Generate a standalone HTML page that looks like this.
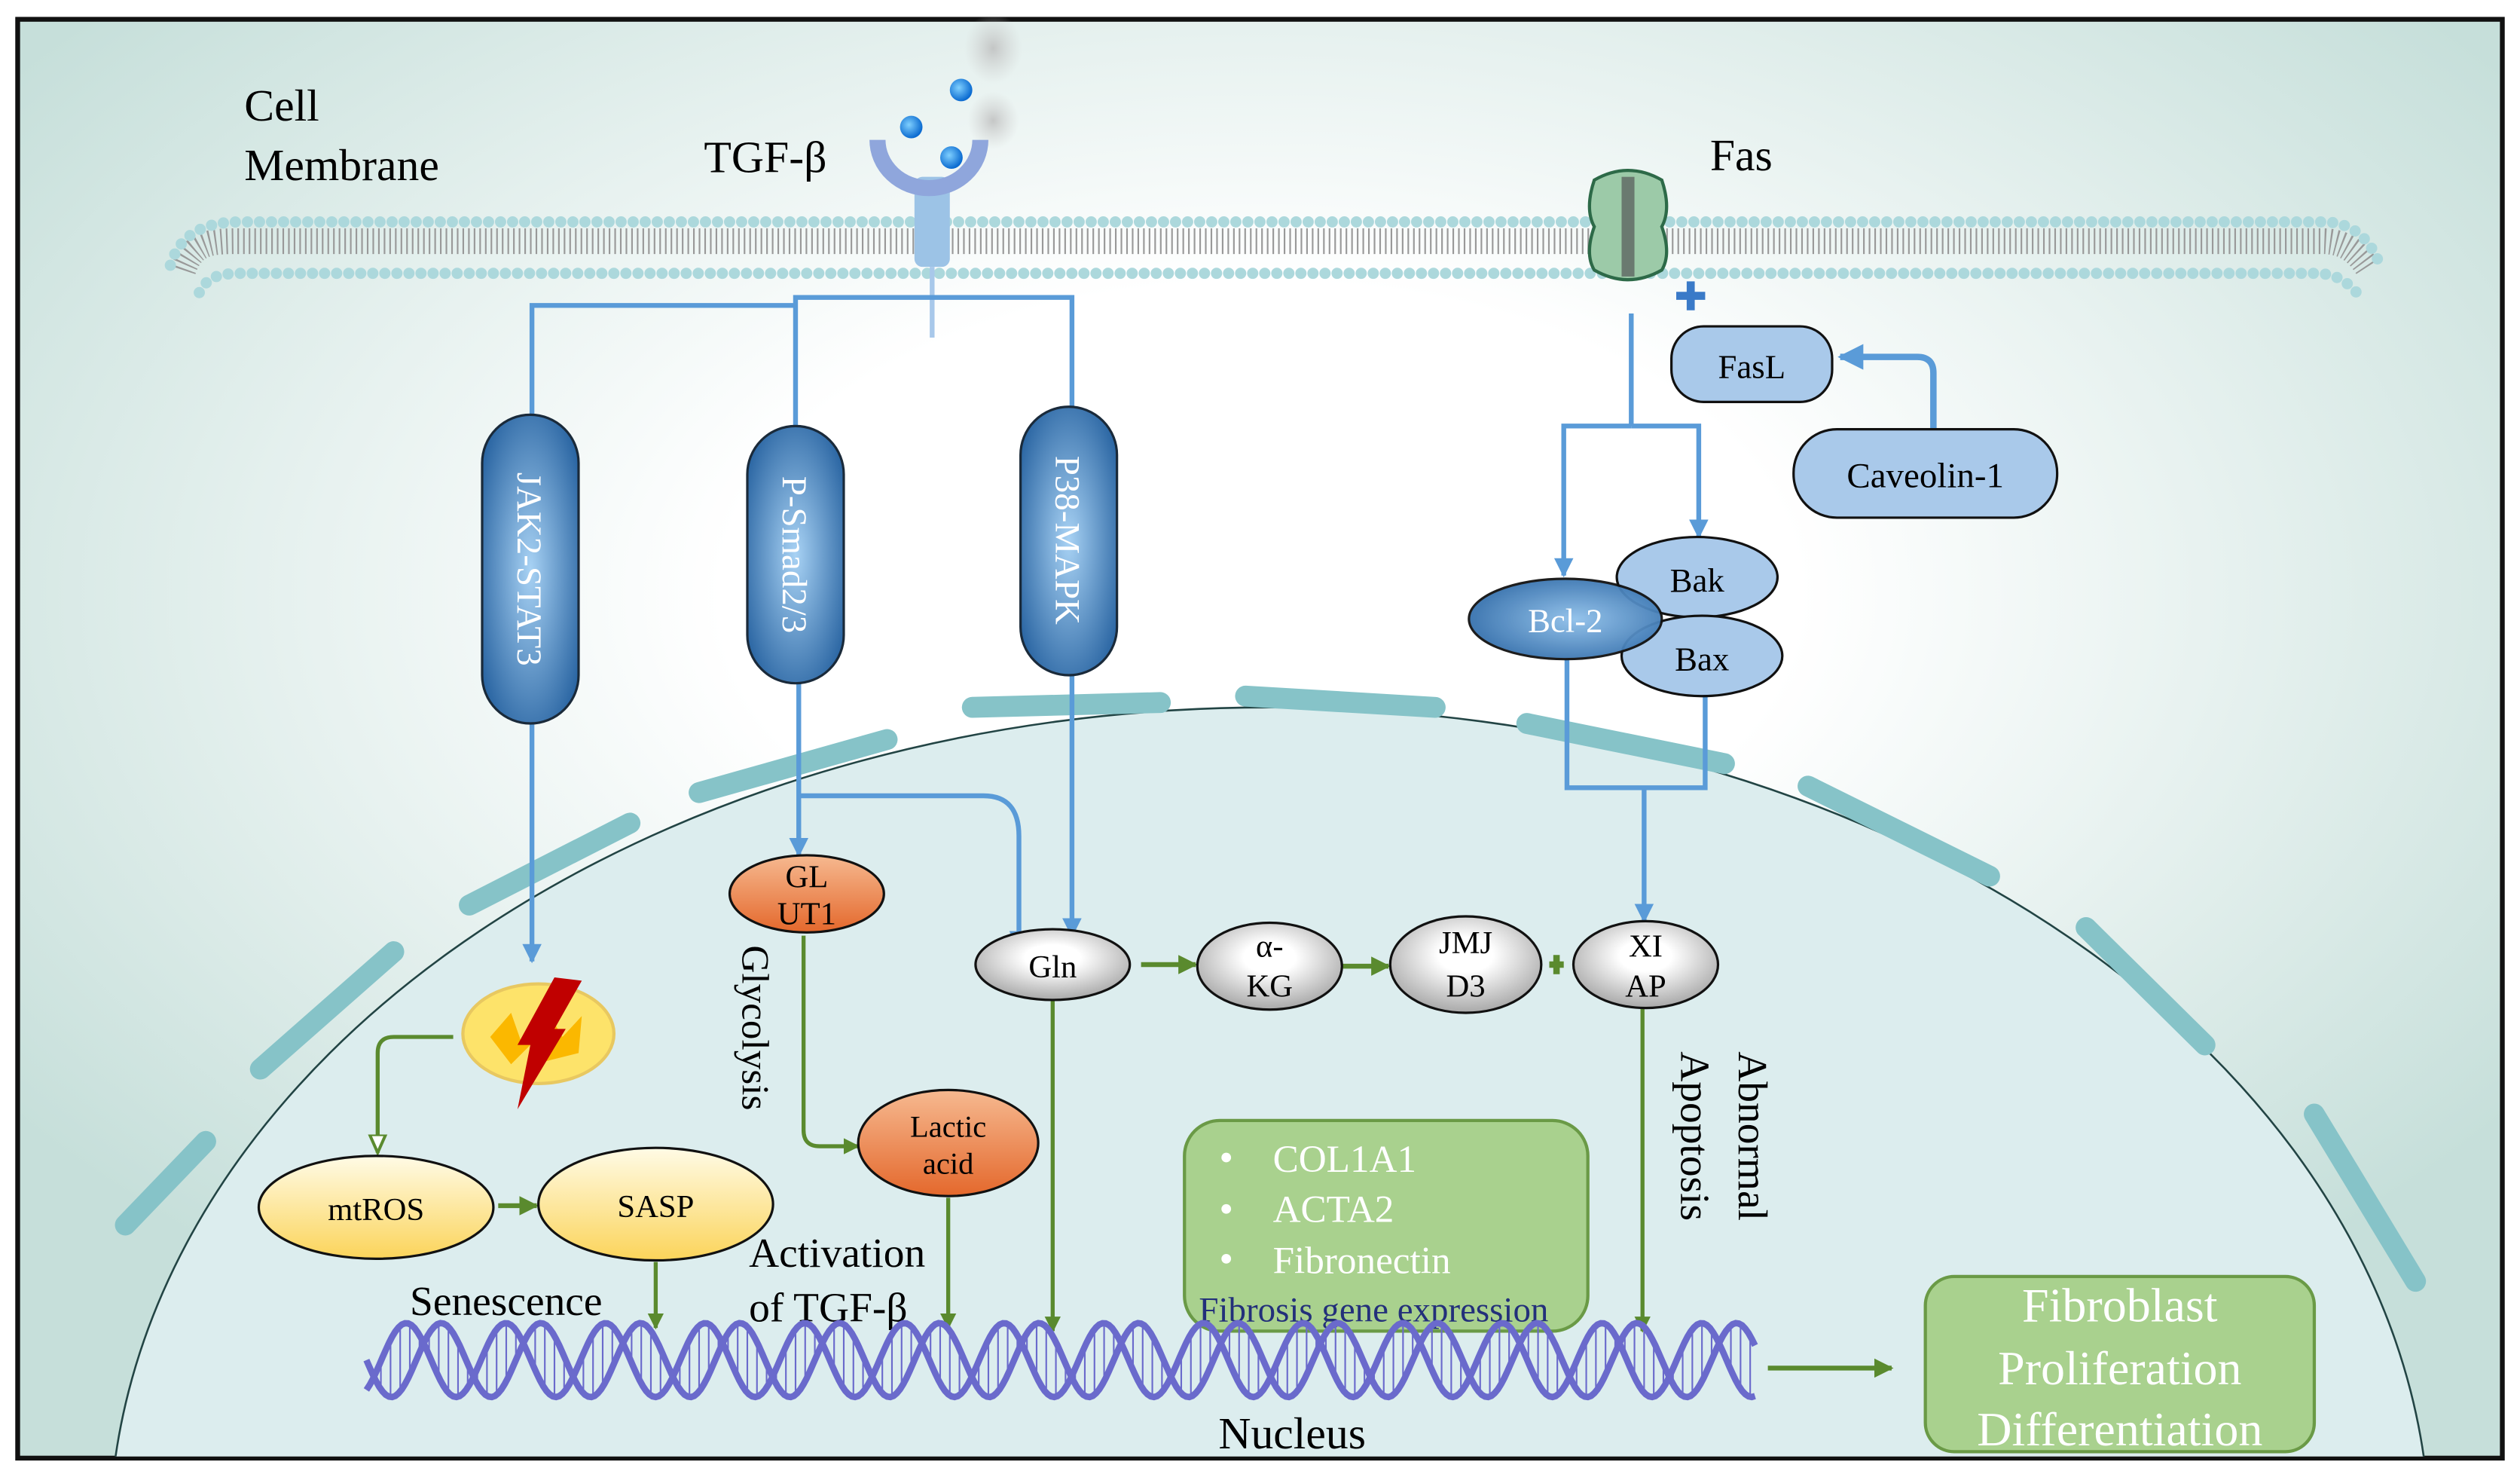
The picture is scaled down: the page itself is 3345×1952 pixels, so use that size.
<!DOCTYPE html>
<html><head><meta charset="utf-8"><style>html,body{margin:0;padding:0;background:#fff;width:3345px;height:1952px;overflow:hidden}svg{display:block}svg,text{font-family:"Liberation Serif",serif}</style></head>
<body>
<svg id="s" width="3345" height="1952" viewBox="0 0 1568 915" xmlns="http://www.w3.org/2000/svg" font-family="Liberation Serif, serif">
<defs>
<radialGradient id="bg" cx="0.5" cy="0.4" r="0.62"><stop offset="0.35" stop-color="#ffffff"/><stop offset="1" stop-color="#c6dfda"/></radialGradient>
<radialGradient id="pill" cx="0.5" cy="0.5" r="0.6"><stop offset="0" stop-color="#a8d2f4"/><stop offset="1" stop-color="#2b66a3"/></radialGradient>
<radialGradient id="bcl" cx="0.55" cy="0.5" r="0.6"><stop offset="0" stop-color="#8fc0ea"/><stop offset="1" stop-color="#2e6aa8"/></radialGradient>
<linearGradient id="or" x1="0" y1="0" x2="0" y2="1"><stop offset="0" stop-color="#f6b990"/><stop offset="1" stop-color="#e4682c"/></linearGradient>
<radialGradient id="wh" cx="0.5" cy="0.4" r="0.6"><stop offset="0.3" stop-color="#ffffff"/><stop offset="1" stop-color="#a8a8a8"/></radialGradient>
<linearGradient id="yel" x1="0" y1="0" x2="0" y2="1"><stop offset="0" stop-color="#fffbe6"/><stop offset="1" stop-color="#fbd45a"/></linearGradient>
<radialGradient id="dot" cx="0.4" cy="0.4" r="0.6"><stop offset="0" stop-color="#7fd0ff"/><stop offset="1" stop-color="#0a6ad0"/></radialGradient>
<radialGradient id="smg" cx="0.5" cy="0.5" r="0.5"><stop offset="0" stop-color="#bbb" stop-opacity="0.8"/><stop offset="1" stop-color="#ccc" stop-opacity="0"/></radialGradient>
<marker id="ab" viewBox="0 0 10 10" refX="9" refY="5" markerWidth="4" markerHeight="4" orient="auto"><path d="M0,0L10,5L0,10z" fill="#5a9bd8"/></marker>
<marker id="ag" viewBox="0 0 10 10" refX="9" refY="5" markerWidth="4" markerHeight="4" orient="auto"><path d="M0,0L10,5L0,10z" fill="#5a8a2e"/></marker>
<marker id="agh" viewBox="0 0 10 10" refX="9" refY="5" markerWidth="5" markerHeight="5" orient="auto"><path d="M0,1L9,5L0,9z" fill="#fff" stroke="#5a8a2e" stroke-width="1.5"/></marker>
</defs>
<rect x="0" y="0" width="1568" height="915" fill="#fff"/>
<rect x="11" y="12" width="1546" height="895" fill="url(#bg)" stroke="#111" stroke-width="3"/>
<clipPath id="cf"><rect x="12" y="13" width="1544" height="893"/></clipPath>
<g clip-path="url(#cf)">
<ellipse cx="790" cy="960" rx="722" ry="520" fill="#dcedee" stroke="#244" stroke-width="1.2"/>
<g stroke="#86c3c8" stroke-width="13" stroke-linecap="round" fill="none">
<line x1="78" y1="762" x2="128" y2="710"/><line x1="162" y1="665" x2="245" y2="592"/>
<line x1="292" y1="563" x2="392" y2="512"/><line x1="435" y1="493" x2="552" y2="460"/>
<line x1="605" y1="440" x2="722" y2="437"/><line x1="775" y1="433" x2="893" y2="440"/>
<line x1="950" y1="450" x2="1073" y2="475"/><line x1="1125" y1="489" x2="1238" y2="545"/>
<line x1="1298" y1="577" x2="1372" y2="650"/><line x1="1440" y1="693" x2="1503" y2="797"/>
</g>
</g>
<g fill="none">
<path d="M114,168 C120,150 132,150 150,150 L1445,150 C1460,150 1468,158 1474,168" stroke="#999" stroke-width="16" stroke-dasharray="1 2.5"/>
<path d="M106,165 C112,145 128,138 150,138 L1445,138 C1465,138 1476,150 1482,168" stroke="#acd8dc" stroke-width="7" stroke-linecap="round" stroke-dasharray="0 7.5"/>
<path d="M124,182 C130,170 140,170 155,170 L1440,170 C1452,170 1460,174 1468,184" stroke="#acd8dc" stroke-width="7" stroke-linecap="round" stroke-dasharray="0 7.5"/>
</g>
<ellipse cx="618" cy="30" rx="18" ry="22" fill="url(#smg)"/>
<ellipse cx="618" cy="75" rx="16" ry="18" fill="url(#smg)"/>
<rect x="569" y="110" width="22" height="56" rx="5" fill="#9cc3e6"/>
<path d="M546,87 A32,30 0 0 0 610,87" fill="none" stroke="#8fa6dc" stroke-width="10"/>
<circle cx="598" cy="56" r="7" fill="url(#dot)"/><circle cx="567" cy="79" r="7" fill="url(#dot)"/><circle cx="592" cy="98" r="7" fill="url(#dot)"/>
<line x1="580" y1="166" x2="580" y2="210" stroke="#a8c8ea" stroke-width="3"/>
<g>
<path d="M992,112 Q1013,100 1034,112 Q1040,130 1034,141 Q1040,158 1034,168 Q1013,180 992,168 Q986,158 992,141 Q986,130 992,112z" fill="#9ccaa8" stroke="#2d6a48" stroke-width="2"/>
<rect x="1009" y="110" width="8" height="62" fill="#6a7a70"/>
</g>
<g stroke="#5a9bd8" stroke-width="3" fill="none">
<path d="M331,262 L331,190 L495,190"/><path d="M495,268 L495,185 L667,185 L667,255"/>
<line x1="331" y1="450" x2="331" y2="598" marker-end="url(#ab)"/>
<line x1="497" y1="425" x2="497" y2="532" marker-end="url(#ab)"/>
<path d="M497,495 L612,495 Q634,495 634,520 L634,590" marker-end="url(#ab)"/>
<line x1="667" y1="420" x2="667" y2="582" marker-end="url(#ab)"/>
<path d="M1015,195 L1015,265"/><path d="M1015,265 L973,265 L973,358" marker-end="url(#ab)"/>
<path d="M1015,265 L1057,265 L1057,334" marker-end="url(#ab)"/>
<path d="M975,410 L975,490 L1061,490 L1061,432"/>
<line x1="1023" y1="490" x2="1023" y2="573" marker-end="url(#ab)"/>
<path d="M1203,267 L1203,232 Q1203,222 1193,222 L1145,222" stroke-width="4" marker-end="url(#ab)"/>
</g>
<path d="M1052,175 V193 M1043,184 H1061" stroke="#3a7ac8" stroke-width="5"/>
<g stroke="#1a2a3a" stroke-width="1.5">
<rect x="300" y="258" width="60" height="192" rx="30" fill="url(#pill)"/>
<rect x="465" y="265" width="60" height="160" rx="30" fill="url(#pill)"/>
<rect x="635" y="253" width="60" height="167" rx="30" fill="url(#pill)"/>
</g>
<g fill="#fff" font-size="22" text-anchor="middle">
<text transform="translate(322,354) rotate(90)">JAK2-STAT3</text>
<text transform="translate(487,345) rotate(90)">P-Smad2/3</text>
<text transform="translate(657,336) rotate(90)">P38-MAPK</text>
</g>
<rect x="1040" y="203" width="100" height="47" rx="20" fill="#a9c9ea" stroke="#111" stroke-width="1.5"/>
<text x="1090" y="235" font-size="21" text-anchor="middle">FasL</text>
<rect x="1116" y="267" width="164" height="55" rx="27" fill="#a9c9ea" stroke="#111" stroke-width="1.5"/>
<text x="1198" y="303" font-size="22" text-anchor="middle">Caveolin-1</text>
<ellipse cx="1056" cy="359" rx="50" ry="25" fill="#a9c9ea" stroke="#111" stroke-width="1.5"/>
<ellipse cx="1059" cy="408" rx="50" ry="25" fill="#a9c9ea" stroke="#111" stroke-width="1.5"/>
<text x="1056" y="368" font-size="21" text-anchor="middle">Bak</text>
<text x="1059" y="417" font-size="21" text-anchor="middle">Bax</text>
<ellipse cx="974" cy="385" rx="60" ry="25" fill="url(#bcl)" stroke="#111" stroke-width="1.5" opacity="0.95"/>
<text x="974" y="393" font-size="21" text-anchor="middle" fill="#fff">Bcl-2</text>
<g stroke="#5a8a2e" stroke-width="2.5" fill="none">
<path d="M500,582 L500,703 Q500,713 510,713 L534,713" marker-end="url(#ag)"/>
<line x1="590" y1="745" x2="590" y2="826" marker-end="url(#ag)"/>
<line x1="655" y1="622" x2="655" y2="828" marker-end="url(#ag)"/>
<line x1="710" y1="600" x2="744" y2="600" stroke-width="3" marker-end="url(#ag)"/>
<line x1="835" y1="601" x2="864" y2="601" stroke-width="3" marker-end="url(#ag)"/>
<line x1="1022" y1="625" x2="1022" y2="828" marker-end="url(#ag)"/>
<path d="M282,645 L245,645 Q235,645 235,655 L235,717" marker-end="url(#agh)"/>
<line x1="310" y1="750" x2="334" y2="750" stroke-width="3" marker-end="url(#ag)"/>
<line x1="408" y1="785" x2="408" y2="826" marker-end="url(#ag)"/>
<line x1="1100" y1="851" x2="1177" y2="851" stroke-width="3" marker-end="url(#ag)"/>
</g>
<path d="M964,600 H973 M968.5,594 V606" stroke="#5a8a2e" stroke-width="4"/>
<g stroke="#111" stroke-width="1.5">
<ellipse cx="502" cy="556" rx="48" ry="24" fill="url(#or)"/>
<ellipse cx="590" cy="711" rx="56" ry="33" fill="url(#or)"/>
<ellipse cx="655" cy="600" rx="48" ry="22" fill="url(#wh)"/>
<ellipse cx="790" cy="601" rx="45" ry="27" fill="url(#wh)"/>
<ellipse cx="912" cy="600" rx="47" ry="30" fill="url(#wh)"/>
<ellipse cx="1024" cy="600" rx="45" ry="27" fill="url(#wh)"/>
<ellipse cx="234" cy="751" rx="73" ry="32" fill="url(#yel)"/>
<ellipse cx="408" cy="749" rx="73" ry="35" fill="url(#yel)"/>
</g>
<ellipse cx="335" cy="643" rx="47" ry="31" fill="#fde36a" stroke="#e8c860" stroke-width="2"/>
<path d="M305,645 L318,630 L325,650 L338,625 L350,645 L362,632 L360,655 L340,660 L330,650 L318,662z" fill="#fbb800"/>
<path d="M345,608 L362,610 L345,640 L352,640 L322,690 L330,650 L322,650z" fill="#c00000"/>
<g font-size="20" text-anchor="middle">
<text x="502" y="552">GL</text><text x="502" y="575">UT1</text>
<text x="590" y="707" font-size="19">Lactic</text><text x="590" y="730" font-size="19">acid</text>
<text x="655" y="608">Gln</text>
<text x="790" y="595">α-</text><text x="790" y="620">KG</text>
<text x="912" y="593">JMJ</text><text x="912" y="620">D3</text>
<text x="1024" y="595">XI</text><text x="1024" y="620">AP</text>
<text x="234" y="759">mtROS</text><text x="408" y="757">SASP</text>
</g>
<g font-size="28">
<text x="152" y="75">Cell</text><text x="152" y="112">Membrane</text>
<text x="438" y="107">TGF-β</text><text x="1064" y="106">Fas</text>
<text x="255" y="818" font-size="26">Senescence</text>
<text x="466" y="788" font-size="26">Activation</text><text x="466" y="822" font-size="26">of TGF-β</text>
<text x="804" y="901" text-anchor="middle">Nucleus</text>
</g>
<text transform="translate(462,588) rotate(90)" font-size="24">Glycolysis</text>
<text transform="translate(1082,654) rotate(90)" font-size="26">Abnormal</text>
<text transform="translate(1046,654) rotate(90)" font-size="26">Apoptosis</text>
<rect x="737" y="697" width="251" height="131" rx="22" fill="#a9d18e" stroke="#6a9a46" stroke-width="2"/>
<g fill="#fff" font-size="24">
<circle cx="763" cy="720" r="3"/><circle cx="763" cy="752" r="3"/><circle cx="763" cy="783" r="3"/>
<text x="792" y="729">COL1A1</text><text x="792" y="760">ACTA2</text><text x="792" y="792">Fibronectin</text>
</g>
<text x="746" y="822" font-size="22" fill="#23307a">Fibrosis gene expression</text>
<rect x="1198" y="794" width="242" height="109" rx="18" fill="#a9d18e" stroke="#6a9a46" stroke-width="2"/>
<g fill="#fff" font-size="30" text-anchor="middle">
<text x="1319" y="822">Fibroblast</text><text x="1319" y="861">Proliferation</text><text x="1319" y="899">Differentiation</text>
</g>
<g id="dna" stroke="#6a6acc" fill="none"></g>
</svg>
<script>
(function(){
var g=document.getElementById('dna'),ns='http://www.w3.org/2000/svg';
var x0=228,x1=1092,cy=846,A=23,P=62,a='',b='',r='';
for(var x=x0;x<=x1;x+=2){var t=(x-x0)/P*2*Math.PI;var y1=cy+A*Math.sin(t),y2=cy+A*Math.sin(t+2.2);
a+=(x==x0?'M':'L')+x+','+y1.toFixed(1);b+=(x==x0?'M':'L')+x+','+y2.toFixed(1);}
for(var x=x0+3;x<x1;x+=6){var t=(x-x0)/P*2*Math.PI;var y1=cy+A*Math.sin(t),y2=cy+A*Math.sin(t+2.2);
if(Math.abs(y1-y2)>6)r+='M'+x+','+y1.toFixed(1)+'L'+x+','+y2.toFixed(1);}
function p(d,w){var e=document.createElementNS(ns,'path');e.setAttribute('d',d);e.setAttribute('stroke-width',w);g.appendChild(e);}
p(r,1);p(a,4);p(b,4);
})();
</script>
</body></html>
